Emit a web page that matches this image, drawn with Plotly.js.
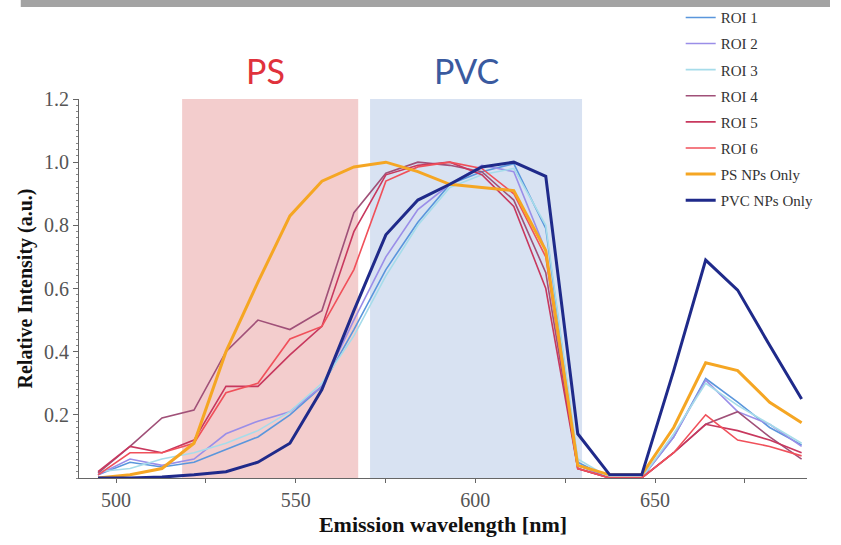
<!DOCTYPE html>
<html>
<head>
<meta charset="utf-8">
<script src="https://cdn.plot.ly/plotly-3.0.1.min.js"></script>
<style>html,body{margin:0;padding:0;background:#fff;}#chart{width:841px;height:545px;}</style>
</head>
<body>
<div id="chart"></div>
<script>
// Emission wavelengths (nm)
const wavelength = [495, 503.9, 512.8, 521.7, 530.6, 539.5, 548.4, 557.3, 566.2, 575.1, 584, 592.9, 601.8, 610.7, 619.6, 628.5, 637.4, 646.3, 655.2, 664.1, 673, 681.9, 690.8];

const roi1 = [0.01, 0.05, 0.035, 0.05, 0.09, 0.13, 0.20, 0.29, 0.47, 0.66, 0.81, 0.93, 0.97, 0.995, 0.79, 0.05, 0.0, 0.0, 0.13, 0.315, 0.24, 0.16, 0.105];
const roi2 = [0.01, 0.06, 0.04, 0.06, 0.14, 0.18, 0.21, 0.29, 0.50, 0.70, 0.85, 0.93, 0.99, 0.97, 0.72, 0.04, 0.0, 0.0, 0.13, 0.31, 0.21, 0.17, 0.10];
const roi3 = [0.02, 0.03, 0.06, 0.08, 0.11, 0.15, 0.21, 0.30, 0.45, 0.64, 0.80, 0.92, 0.96, 0.98, 0.80, 0.06, 0.0, 0.0, 0.14, 0.30, 0.23, 0.17, 0.11];
const roi4 = [0.015, 0.10, 0.19, 0.215, 0.40, 0.50, 0.47, 0.53, 0.84, 0.965, 1.0, 0.99, 0.97, 0.88, 0.65, 0.03, 0.0, 0.0, 0.08, 0.17, 0.21, 0.13, 0.06];
const roi5 = [0.02, 0.10, 0.08, 0.12, 0.29, 0.29, 0.39, 0.48, 0.78, 0.96, 0.99, 1.0, 0.96, 0.86, 0.60, 0.03, 0.0, 0.0, 0.08, 0.17, 0.15, 0.12, 0.08];
const roi6 = [0.01, 0.08, 0.08, 0.11, 0.27, 0.30, 0.44, 0.48, 0.66, 0.94, 0.985, 1.0, 0.98, 0.90, 0.70, 0.03, 0.0, 0.0, 0.08, 0.20, 0.12, 0.10, 0.07];
const psOnly = [0.0, 0.01, 0.03, 0.11, 0.40, 0.62, 0.83, 0.94, 0.985, 1.0, 0.97, 0.93, 0.92, 0.91, 0.72, 0.04, 0.01, 0.01, 0.16, 0.365, 0.34, 0.24, 0.175];
const pvcOnly = [0.0, 0.0, 0.003, 0.01, 0.02, 0.05, 0.11, 0.28, 0.53, 0.77, 0.88, 0.93, 0.985, 1.0, 0.955, 0.14, 0.01, 0.01, 0.34, 0.69, 0.595, 0.42, 0.25];

const seriesNames = ["ROI 1", "ROI 2", "ROI 3", "ROI 4", "ROI 5", "ROI 6", "PS NPs Only", "PVC NPs Only"];
const seriesValues = [roi1, roi2, roi3, roi4, roi5, roi6, psOnly, pvcOnly];
const seriesColors = ["#5a96dc", "#9a8ee8", "#a6dcea", "#a05078", "#c8385e", "#f0505a", "#f5a623", "#1f2a8a"];
const seriesWidths = [1.6, 1.6, 1.6, 1.6, 1.6, 1.6, 3, 3];

// Highlighted bands (nm) and their labels
const psBand = [518.4, 567.4];
const pvcBand = [570.7, 629.7];
const bandLabels = ["PS", "PVC"];
const bandLabelX = [541.7, 597.4];

const xTicks = [500, 550, 600, 650];
const xMinorTicks = [525, 575, 625, 675];
const yTicks = [0.2, 0.4, 0.6, 0.8, 1.0, 1.2];
const yTickText = ["0.2", "0.4", "0.6", "0.8", "1.0", "1.2"];

const traces = seriesNames.map((name, i) => ({
  type: "scatter",
  mode: "lines",
  name: name,
  legendgroup: "g" + i,
  x: wavelength,
  y: seriesValues[i],
  line: {color: seriesColors[i], width: seriesWidths[i]},
  hoverinfo: "x+y+name"
}));

const serif = "Liberation Serif, Times New Roman, serif";

const layout = {
  width: 841,
  height: 545,
  margin: {l: 79, r: 34, t: 99, b: 67, autoexpand: false},
  paper_bgcolor: "#ffffff",
  plot_bgcolor: "#ffffff",
  showlegend: true,
  legend: {
    x: 0.8265, y: 1.258, xanchor: "left", yanchor: "top",
    bgcolor: "rgba(255,255,255,0)",
    font: {family: serif, size: 15, color: "#333333"},
    itemwidth: 30,
    traceorder: "grouped",
    tracegroupgap: 3.6
  },
  xaxis: {
    range: [489.7, 692.3],
    tickvals: xTicks,
    ticktext: xTicks.map(String),
    ticks: "outside",
    ticklen: 4,
    tickcolor: "#666",
    showline: true,
    linecolor: "#666",
    linewidth: 1,
    showgrid: false,
    zeroline: false,
    tickfont: {family: serif, size: 20, color: "#555"},
    minor: {tickvals: xMinorTicks, ticks: "outside", ticklen: 4, tickcolor: "#666"},
    title: {text: "<b>Emission wavelength [nm]</b>", font: {family: serif, size: 22, color: "#111"}, standoff: 6}
  },
  yaxis: {
    range: [0, 1.2],
    tickvals: yTicks,
    ticktext: yTickText,
    ticks: "outside",
    ticklen: 5,
    tickcolor: "#666",
    showline: true,
    linecolor: "#666",
    linewidth: 1,
    showgrid: false,
    zeroline: false,
    tickfont: {family: serif, size: 20, color: "#555"},
    minor: {dtick: 0.02, ticks: "outside", ticklen: 2, tickcolor: "#888"},
    title: {text: "<b>Relative Intensity (a.u.)</b>", font: {family: serif, size: 20, color: "#111"}, standoff: 6}
  },
  shapes: [
    {type: "rect", layer: "below", xref: "x", yref: "y", x0: psBand[0], x1: psBand[1], y0: 0, y1: 1.2,
     fillcolor: "rgb(243,205,205)", line: {width: 0}},
    {type: "rect", layer: "below", xref: "x", yref: "y", x0: pvcBand[0], x1: pvcBand[1], y0: 0, y1: 1.2,
     fillcolor: "rgb(216,226,242)", line: {width: 0}},
    {type: "rect", xref: "paper", yref: "paper", x0: -0.08, x1: 1.0316, y0: 1.2427, y1: 1.262,
     fillcolor: "#a3a3a3", line: {width: 0}}
  ],
  annotations: [
    {xref: "x", yref: "paper", x: bandLabelX[0], y: 1.076, yanchor: "middle", text: bandLabels[0], showarrow: false,
     font: {family: "Lato, Open Sans, sans-serif", size: 34, color: "#e0323c"}},
    {xref: "x", yref: "paper", x: bandLabelX[1], y: 1.076, yanchor: "middle", text: bandLabels[1], showarrow: false,
     font: {family: "Lato, Open Sans, sans-serif", size: 34, color: "#3a5a9f"}}
  ]
};

Plotly.newPlot("chart", traces, layout, {displayModeBar: false, staticPlot: true});
</script>
</body>
</html>
